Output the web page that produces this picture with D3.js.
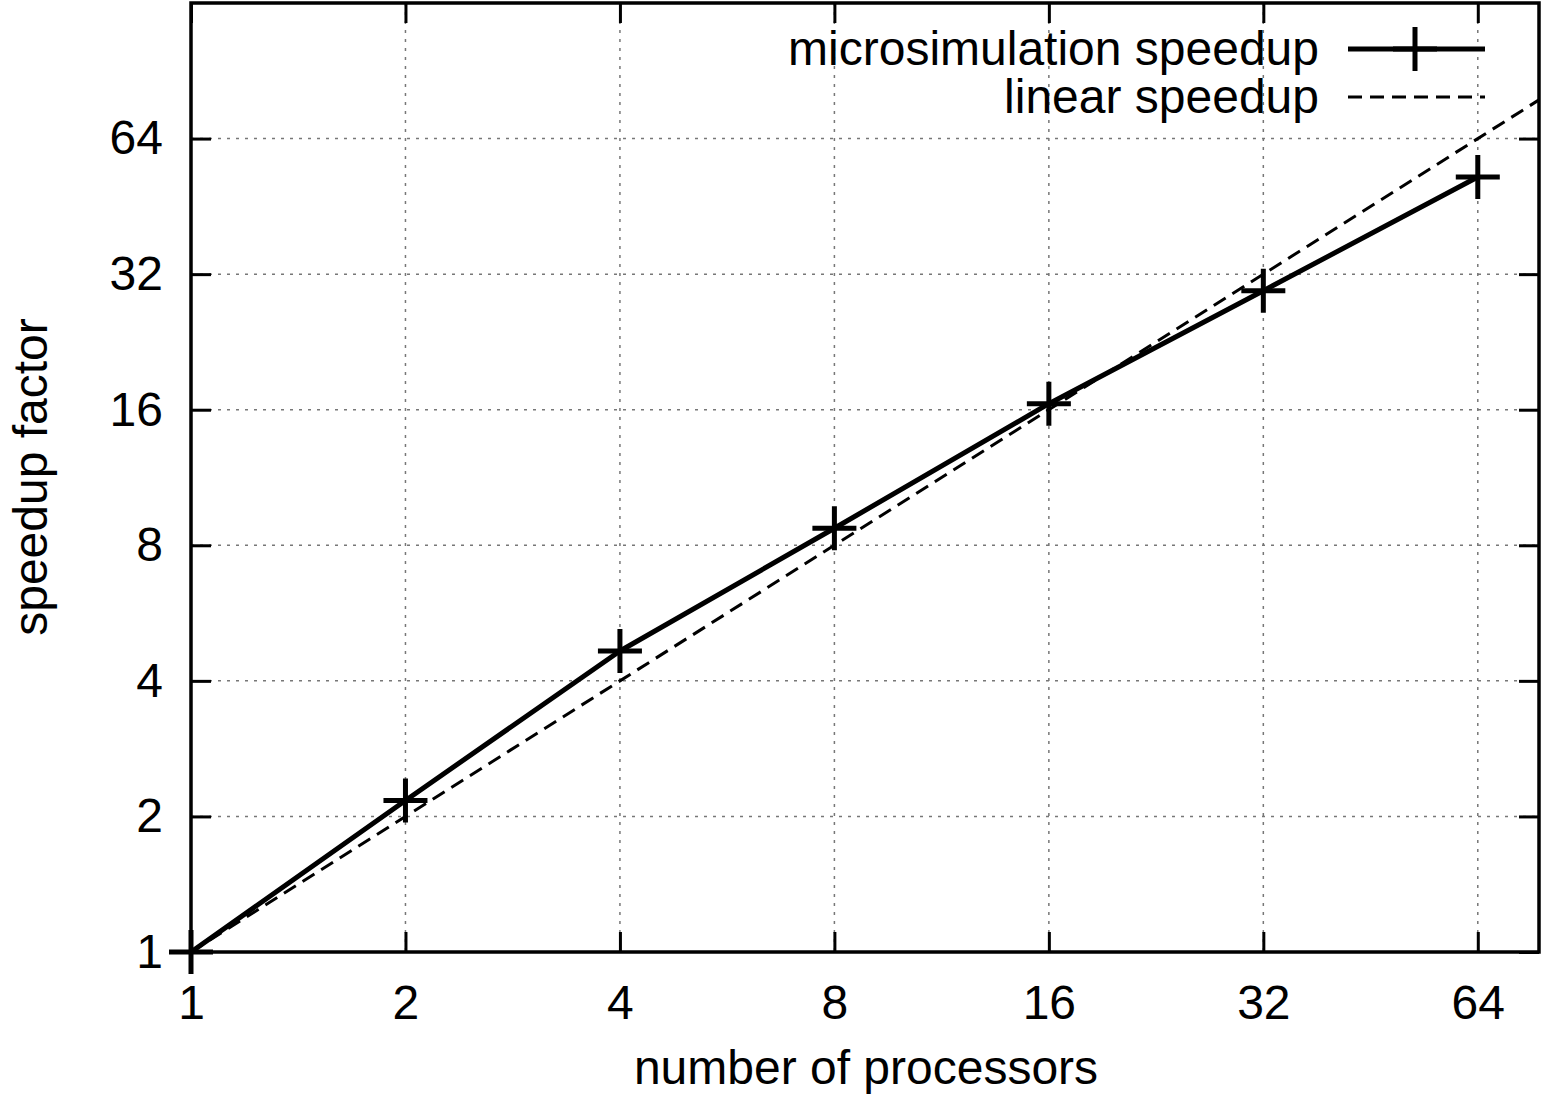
<!DOCTYPE html>
<html>
<head>
<meta charset="utf-8">
<script src="https://cdn.jsdelivr.net/npm/d3@7"></script>
<style>
  html, body { margin: 0; padding: 0; background: #fff; }
  svg { display: block; }
  text { font-family: "Liberation Sans", Arial, Helvetica, sans-serif; fill: #000; }
</style>
</head>
<body>
<svg id="chart" width="1544" height="1097"></svg>
<script>
// ---- data ----
const processors = [1, 2, 4, 8, 16, 32, 64];
const microSpeedup = [1, 2.17, 4.66, 8.73, 16.5, 29.4, 52.6];
const xTickValues = [1, 2, 4, 8, 16, 32, 64];
const yTickValues = [1, 2, 4, 8, 16, 32, 64];
const xDomain = [1, 78];
const yDomain = [1, 128];
const seriesNames = ["microsimulation speedup", "linear speedup"];
const xTitle = "number of processors";
const yTitle = "speedup factor";

// ---- layout ----
const W = 1544, H = 1097;
const margin = { left: 191, right: 5, top: 3, bottom: 145 };
const iw = W - margin.left - margin.right;
const ih = H - margin.top - margin.bottom;
const FS = 48;

const svg = d3.select("#chart");
const g = svg.append("g").attr("transform", `translate(${margin.left},${margin.top})`);

const x = d3.scaleLog().base(2).domain(xDomain).range([0, iw]);
const y = d3.scaleLog().base(2).domain(yDomain).range([ih, 0]);

// grid
const grid = g.append("g");
grid.selectAll("line.gx").data(xTickValues.slice(1)).join("line")
  .attr("x1", d => x(d)).attr("x2", d => x(d))
  .attr("y1", 0).attr("y2", ih)
  .attr("stroke", "#777").attr("stroke-width", 1.5).attr("stroke-dasharray", "3,6");
grid.selectAll("line.gy").data(yTickValues.slice(1)).join("line")
  .attr("x1", 0).attr("x2", iw)
  .attr("y1", d => y(d)).attr("y2", d => y(d))
  .attr("stroke", "#777").attr("stroke-width", 1.5).attr("stroke-dasharray", "3,6");

// clip
svg.append("defs").append("clipPath").attr("id", "clip")
  .append("rect").attr("width", iw).attr("height", ih);
const plot = g.append("g").attr("clip-path", "url(#clip)");

// linear speedup (y = x)
const linearPts = [xDomain[0], xDomain[1]].map(v => [v, v]);
plot.append("path")
  .attr("d", d3.line().x(d => x(d[0])).y(d => y(d[1]))(linearPts))
  .attr("fill", "none").attr("stroke", "#000").attr("stroke-width", 3)
  .attr("stroke-dasharray", "14,8");

// microsimulation speedup
const data = processors.map((p, i) => [p, microSpeedup[i]]);
plot.append("path")
  .attr("d", d3.line().x(d => x(d[0])).y(d => y(d[1]))(data))
  .attr("fill", "none").attr("stroke", "#000").attr("stroke-width", 5)
  .attr("stroke-linejoin", "round");

const M = 22;
const plus = (sel, cx, cy) => {
  sel.append("path")
    .attr("d", `M${cx - M},${cy}H${cx + M}M${cx},${cy - M}V${cy + M}`)
    .attr("stroke", "#000").attr("stroke-width", 5).attr("fill", "none");
};
const markers = g.append("g");
data.forEach(d => plus(markers, x(d[0]), y(d[1])));

// axes (inward ticks, mirrored)
const ax = g.append("g").attr("transform", `translate(0,${ih})`)
  .call(d3.axisBottom(x).tickValues(xTickValues).tickFormat(d3.format("d")).tickSizeInner(-20).tickSizeOuter(0).tickPadding(33));
const ay = g.append("g")
  .call(d3.axisLeft(y).tickValues(yTickValues).tickFormat(d3.format("d")).tickSizeInner(-20).tickSizeOuter(0).tickPadding(28));
const axTop = g.append("g")
  .call(d3.axisTop(x).tickValues(xTickValues).tickFormat("").tickSizeInner(-20).tickSizeOuter(0));
const ayRight = g.append("g").attr("transform", `translate(${iw},0)`)
  .call(d3.axisRight(y).tickValues(yTickValues).tickFormat("").tickSizeInner(-20).tickSizeOuter(0));
[ax, ay, axTop, ayRight].forEach(a => {
  a.select(".domain").remove();
  a.selectAll(".tick line").attr("stroke", "#000").attr("stroke-width", 3);
  a.selectAll(".tick text").attr("font-size", FS).attr("font-family", null).attr("fill", "#000");
});

// frame
g.append("rect").attr("x", 0).attr("y", 0).attr("width", iw).attr("height", ih)
  .attr("fill", "none").attr("stroke", "#000").attr("stroke-width", 3.5);

// titles
svg.append("text").attr("x", 866).attr("y", 1084).attr("text-anchor", "middle")
  .attr("font-size", FS).text(xTitle);
svg.append("text").attr("transform", "translate(47,477) rotate(-90)").attr("text-anchor", "middle")
  .attr("font-size", FS).text(yTitle);

// legend
const leg = svg.append("g");
const legY = [49, 97];
leg.append("text").attr("x", 1319).attr("y", legY[0] + 16).attr("text-anchor", "end")
  .attr("font-size", FS).text(seriesNames[0]);
leg.append("text").attr("x", 1319).attr("y", legY[1] + 16).attr("text-anchor", "end")
  .attr("font-size", FS).text(seriesNames[1]);
leg.append("line").attr("x1", 1348).attr("x2", 1485).attr("y1", legY[0]).attr("y2", legY[0])
  .attr("stroke", "#000").attr("stroke-width", 5);
plus(leg, 1415, legY[0]);
leg.append("line").attr("x1", 1348).attr("x2", 1485).attr("y1", legY[1]).attr("y2", legY[1])
  .attr("stroke", "#000").attr("stroke-width", 3).attr("stroke-dasharray", "14,8");
</script>
</body>
</html>
